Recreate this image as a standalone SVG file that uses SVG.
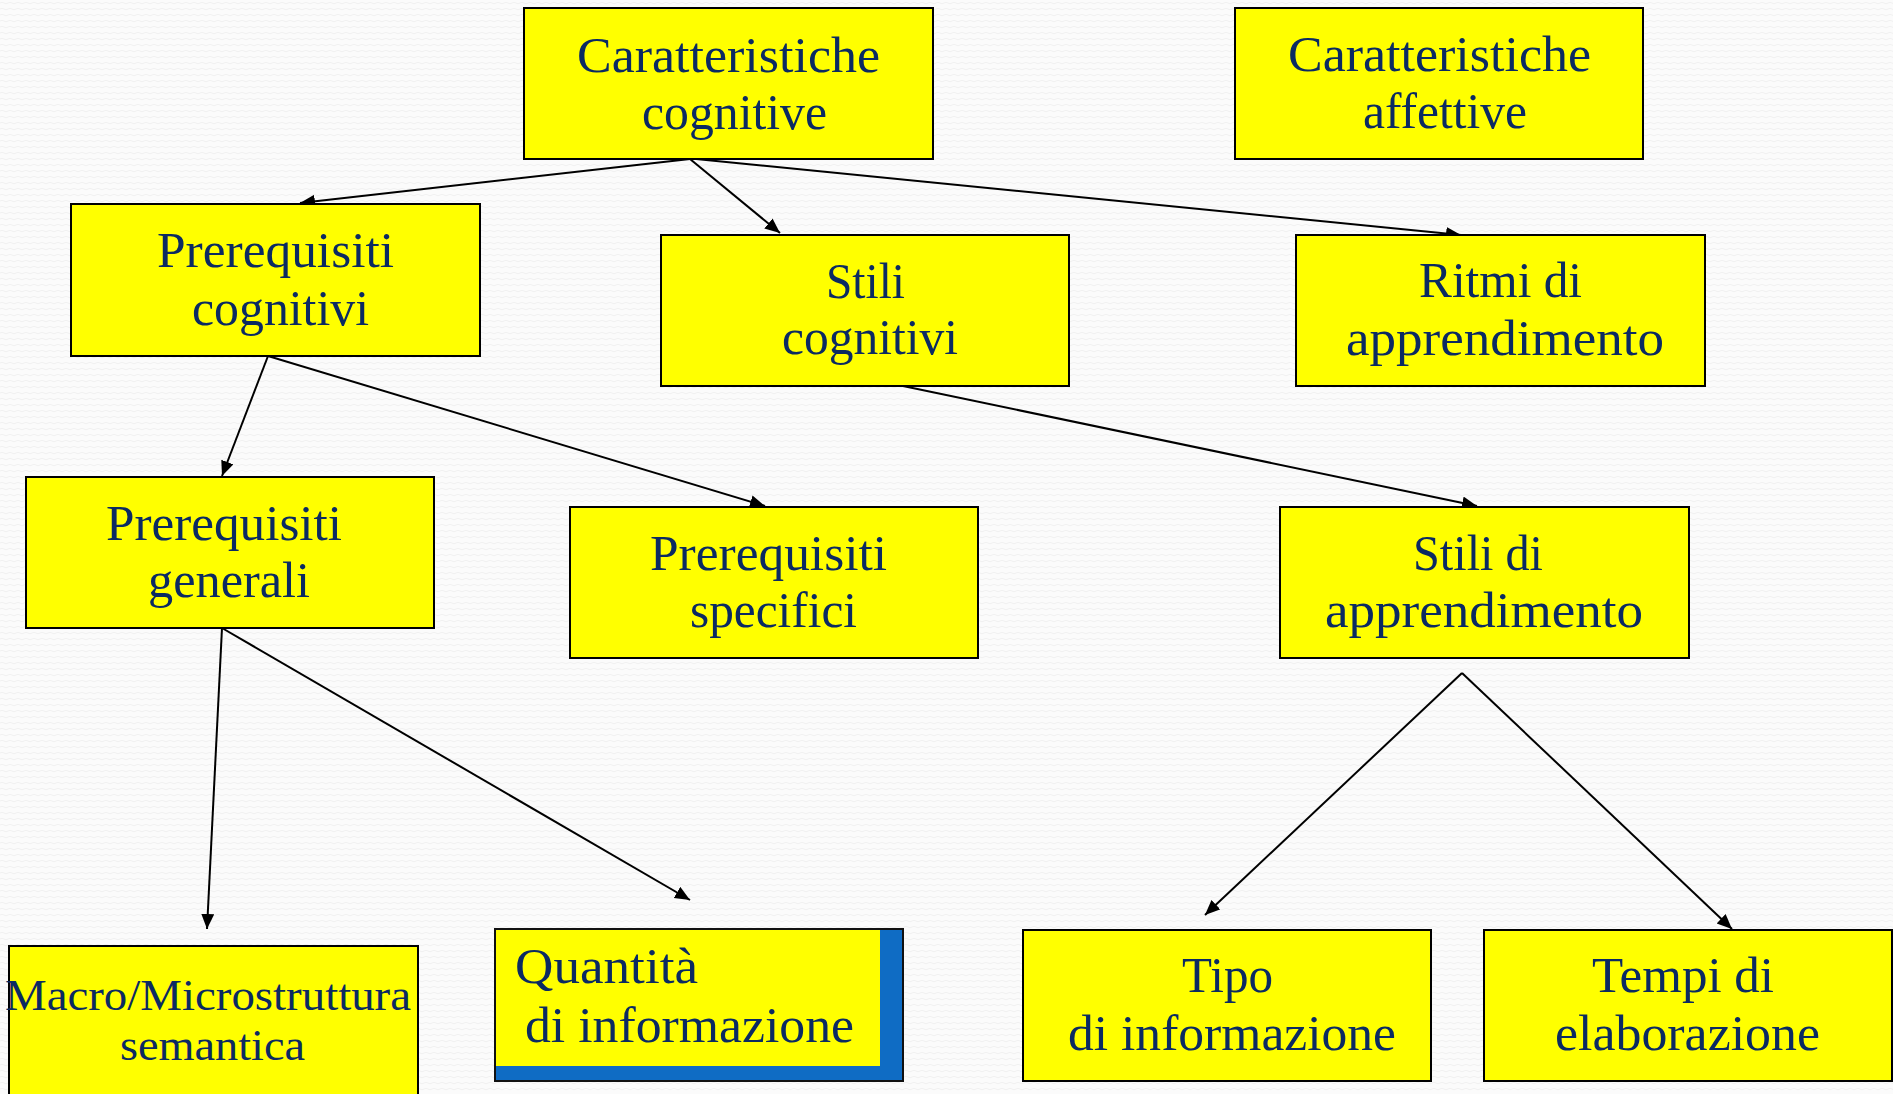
<svg xmlns="http://www.w3.org/2000/svg" width="1893" height="1094" viewBox="0 0 1893 1094">
  <defs>
    <pattern id="bg-wave" width="8" height="6" patternUnits="userSpaceOnUse">
      <rect width="8" height="6" fill="#fbfbfb"/>
      <path d="M0 3 Q2 1.5 4 3 T8 3" fill="none" stroke="#ededed" stroke-width="0.8"/>
    </pattern>
    <marker id="arrow" markerUnits="userSpaceOnUse" markerWidth="16" markerHeight="14" refX="15" refY="6.5" orient="auto">
      <path d="M0 0 L15 6.5 L0 13 Z" fill="#000"/>
    </marker>
    <style>
      .box { fill: #ffff00; stroke: #000; stroke-width: 2; }
      .lbl { font-family: "Liberation Serif", "DejaVu Serif", serif; font-size: 50px; fill: #0b2a62; }
      .small { font-size: 44px; }
      .edge { fill: none; stroke: #000; stroke-width: 2; marker-end: url(#arrow); }
    </style>
  </defs>

  <rect width="1893" height="1094" fill="url(#bg-wave)"/>

  <!-- connectors -->
  <g id="connectors">
    <line class="edge" x1="690" y1="159" x2="300" y2="203"/>
    <line class="edge" x1="690" y1="159" x2="780" y2="233"/>
    <line class="edge" x1="696" y1="159" x2="1461" y2="235"/>
    <line class="edge" x1="268" y1="356" x2="222" y2="476"/>
    <line class="edge" x1="268" y1="356" x2="765" y2="506"/>
    <line class="edge" x1="903" y1="386" x2="1477" y2="506"/>
    <line class="edge" x1="222" y1="628" x2="207" y2="929"/>
    <line class="edge" x1="222" y1="628" x2="690" y2="900"/>
    <line class="edge" x1="1462" y1="673" x2="1205" y2="915"/>
    <line class="edge" x1="1462" y1="673" x2="1732" y2="929"/>
  </g>

  <g id="caratteristiche-cognitive">
    <rect class="box" x="524" y="8" width="409" height="151"/>
    <text class="lbl" x="577" y="72" textLength="303" lengthAdjust="spacingAndGlyphs">Caratteristiche</text>
    <text class="lbl" x="642" y="129" textLength="185" lengthAdjust="spacingAndGlyphs">cognitive</text>
  </g>

  <g id="caratteristiche-affettive">
    <rect class="box" x="1235" y="8" width="408" height="151"/>
    <text class="lbl" x="1288" y="71" textLength="303" lengthAdjust="spacingAndGlyphs">Caratteristiche</text>
    <text class="lbl" x="1363" y="128" textLength="164" lengthAdjust="spacingAndGlyphs">affettive</text>
  </g>

  <g id="prerequisiti-cognitivi">
    <rect class="box" x="71" y="204" width="409" height="152"/>
    <text class="lbl" x="157" y="267" textLength="237" lengthAdjust="spacingAndGlyphs">Prerequisiti</text>
    <text class="lbl" x="192" y="325" textLength="177" lengthAdjust="spacingAndGlyphs">cognitivi</text>
  </g>

  <g id="stili-cognitivi">
    <rect class="box" x="661" y="235" width="408" height="151"/>
    <text class="lbl" x="826" y="298" textLength="79" lengthAdjust="spacingAndGlyphs">Stili</text>
    <text class="lbl" x="782" y="354" textLength="176" lengthAdjust="spacingAndGlyphs">cognitivi</text>
  </g>

  <g id="ritmi-di-apprendimento">
    <rect class="box" x="1296" y="235" width="409" height="151"/>
    <text class="lbl" x="1419" y="297" textLength="163" lengthAdjust="spacingAndGlyphs">Ritmi di</text>
    <text class="lbl" x="1346" y="355" textLength="318" lengthAdjust="spacingAndGlyphs">apprendimento</text>
  </g>

  <g id="prerequisiti-generali">
    <rect class="box" x="26" y="477" width="408" height="151"/>
    <text class="lbl" x="106" y="540" textLength="236" lengthAdjust="spacingAndGlyphs">Prerequisiti</text>
    <text class="lbl" x="148" y="597" textLength="162" lengthAdjust="spacingAndGlyphs">generali</text>
  </g>

  <g id="prerequisiti-specifici">
    <rect class="box" x="570" y="507" width="408" height="151"/>
    <text class="lbl" x="650" y="570" textLength="237" lengthAdjust="spacingAndGlyphs">Prerequisiti</text>
    <text class="lbl" x="690" y="627" textLength="167" lengthAdjust="spacingAndGlyphs">specifici</text>
  </g>

  <g id="stili-di-apprendimento">
    <rect class="box" x="1280" y="507" width="409" height="151"/>
    <text class="lbl" x="1413" y="570" textLength="130" lengthAdjust="spacingAndGlyphs">Stili di</text>
    <text class="lbl" x="1325" y="627" textLength="318" lengthAdjust="spacingAndGlyphs">apprendimento</text>
  </g>

  <g id="macro-microstruttura">
    <rect class="box" x="9" y="946" width="409" height="160"/>
    <text class="lbl small" x="5" y="1010" textLength="406" lengthAdjust="spacingAndGlyphs">Macro/Microstruttura</text>
    <text class="lbl small" x="120" y="1060" textLength="185" lengthAdjust="spacingAndGlyphs">semantica</text>
  </g>

  <g id="quantita-di-informazione">
    <rect x="495" y="929" width="408" height="152" fill="#0f6cc4" stroke="#111" stroke-width="2"/>
    <rect x="496" y="930" width="384" height="136" fill="#ffff00"/>
    <text class="lbl" x="515" y="983" textLength="183" lengthAdjust="spacingAndGlyphs">Quantità</text>
    <text class="lbl" x="525" y="1042" textLength="329" lengthAdjust="spacingAndGlyphs">di informazione</text>
  </g>

  <g id="tipo-di-informazione">
    <rect class="box" x="1023" y="930" width="408" height="151"/>
    <text class="lbl" x="1182" y="992" textLength="91" lengthAdjust="spacingAndGlyphs">Tipo</text>
    <text class="lbl" x="1068" y="1050" textLength="328" lengthAdjust="spacingAndGlyphs">di informazione</text>
  </g>

  <g id="tempi-di-elaborazione">
    <rect class="box" x="1484" y="930" width="408" height="151"/>
    <text class="lbl" x="1592" y="992" textLength="182" lengthAdjust="spacingAndGlyphs">Tempi di</text>
    <text class="lbl" x="1555" y="1050" textLength="265" lengthAdjust="spacingAndGlyphs">elaborazione</text>
  </g>
</svg>
